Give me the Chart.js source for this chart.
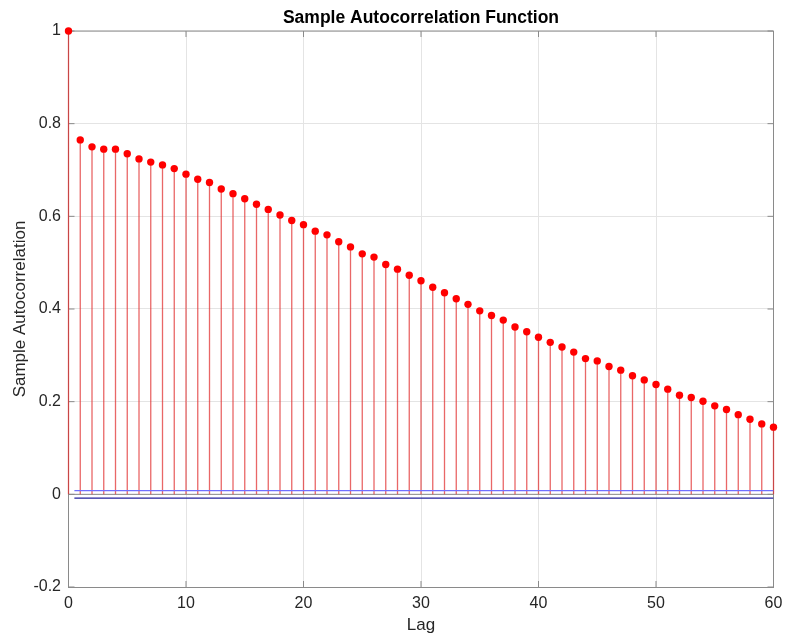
<!DOCTYPE html>
<html>
<head>
<meta charset="utf-8">
<script src="https://cdn.jsdelivr.net/npm/chart.js@4/dist/chart.umd.min.js"></script>
<style>
  html, body { margin: 0; padding: 0; background: #ffffff; }
  #wrap { width: 785px; height: 641px; }
</style>
</head>
<body>
<div id="wrap"><canvas id="acf" width="785" height="641"></canvas></div>
<script>
// Sample autocorrelation at lags 0..60
const acfValues = [1, 0.765, 0.750, 0.745, 0.745, 0.735, 0.724, 0.717, 0.711, 0.703,
  0.691, 0.680, 0.673, 0.659, 0.649, 0.638, 0.626, 0.615, 0.603, 0.591,
  0.582, 0.568, 0.560, 0.545, 0.534, 0.519, 0.512, 0.496, 0.486, 0.473,
  0.461, 0.447, 0.435, 0.422, 0.410, 0.396, 0.386, 0.376, 0.361, 0.351,
  0.339, 0.328, 0.318, 0.307, 0.293, 0.288, 0.276, 0.268, 0.256, 0.247,
  0.237, 0.227, 0.214, 0.209, 0.201, 0.191, 0.183, 0.172, 0.162, 0.152, 0.145];
const lags = acfValues.map((_, i) => i);

// Confidence bounds, drawn from lag 0.5 to the last lag
const boundLags = [0.5, 60];
const upperBound = [0.0082, 0.0082];
const lowerBound = [-0.0082, -0.0082];

// Tick values
const xTicks = [0, 10, 20, 30, 40, 50, 60];
const yTicks = [-0.2, 0, 0.2, 0.4, 0.6, 0.8, 1];

const chartTitle = 'Sample Autocorrelation Function';

const FONT = '"Liberation Sans", Arial, Helvetica, sans-serif';
const AXIS_COLOR = '#8a8a8a';
const GRID_COLOR = '#e4e4e4';
const TEXT_COLOR = '#262626';

// Stems, stem baseline, the top/right frame and inward tick marks
const stemPlugin = {
  id: 'stems',
  beforeDatasetsDraw(chart) {
    const { ctx, chartArea: a, scales: { x, y } } = chart;
    ctx.save();
    // baseline at zero
    const y0 = y.getPixelForValue(0);
    ctx.strokeStyle = AXIS_COLOR;
    ctx.lineWidth = 1;
    ctx.beginPath();
    ctx.moveTo(a.left, y0);
    ctx.lineTo(a.right, y0);
    ctx.stroke();
    // top and right frame
    ctx.beginPath();
    ctx.moveTo(a.left, a.top);
    ctx.lineTo(a.right, a.top);
    ctx.lineTo(a.right, a.bottom);
    ctx.stroke();
    // inward ticks
    const tl = 6;
    ctx.beginPath();
    xTicks.forEach(v => {
      const px = x.getPixelForValue(v);
      ctx.moveTo(px, a.bottom); ctx.lineTo(px, a.bottom - tl);
      ctx.moveTo(px, a.top); ctx.lineTo(px, a.top + tl);
    });
    yTicks.forEach(v => {
      const py = y.getPixelForValue(v);
      ctx.moveTo(a.left, py); ctx.lineTo(a.left + tl, py);
      ctx.moveTo(a.right, py); ctx.lineTo(a.right - tl, py);
    });
    ctx.stroke();
    // stems from zero to each value
    ctx.strokeStyle = 'rgba(225, 45, 45, 0.72)';
    ctx.lineWidth = 1.3;
    ctx.beginPath();
    lags.forEach((lag, i) => {
      const px = x.getPixelForValue(lag);
      ctx.moveTo(px, y0);
      ctx.lineTo(px, y.getPixelForValue(acfValues[i]));
    });
    ctx.stroke();
    ctx.restore();
  }
};

// Title centred over the plot area rather than the whole canvas
const axesTitlePlugin = {
  id: 'axesTitle',
  afterDraw(chart) {
    const { ctx, chartArea: a } = chart;
    ctx.save();
    ctx.font = 'bold 17.5px ' + FONT;
    ctx.fillStyle = '#000000';
    ctx.textAlign = 'center';
    ctx.textBaseline = 'middle';
    ctx.fillText(chartTitle, (a.left + a.right) / 2, 18.5);
    ctx.restore();
  }
};

new Chart(document.getElementById('acf'), {
  type: 'scatter',
  data: {
    datasets: [
      {
        label: 'upper',
        type: 'line',
        data: boundLags.map((l, i) => ({ x: l, y: upperBound[i] })),
        borderColor: '#7070ff',
        borderWidth: 1.2,
        pointRadius: 0,
        fill: false
      },
      {
        label: 'lower',
        type: 'line',
        data: boundLags.map((l, i) => ({ x: l, y: lowerBound[i] })),
        borderColor: '#22229c',
        borderWidth: 1.2,
        pointRadius: 0,
        fill: false
      },
      {
        label: 'acf',
        data: lags.map((l, i) => ({ x: l, y: acfValues[i] })),
        backgroundColor: '#ff0000',
        borderColor: '#ff0000',
        pointRadius: 3.7,
        pointBorderWidth: 0,
        clip: false
      }
    ]
  },
  options: {
    responsive: false,
    animation: false,
    events: [],
    layout: { padding: { left: 0, right: 11.5, top: 31, bottom: 0 } },
    plugins: {
      legend: { display: false },
      tooltip: { enabled: false },
      title: { display: false }
    },
    scales: {
      x: {
        type: 'linear',
        min: 0,
        max: 60,
        afterBuildTicks: s => { s.ticks = xTicks.map(v => ({ value: v })); },
        afterFit: s => { s.height = 54; s.paddingLeft = 0; s.paddingRight = 0; },
        grid: { color: GRID_COLOR, drawTicks: false },
        border: { display: true, color: AXIS_COLOR, width: 1 },
        ticks: { color: TEXT_COLOR, font: { family: FONT, size: 16 }, padding: 7, maxRotation: 0 },
        title: {
          display: true, text: 'Lag', color: TEXT_COLOR,
          font: { family: FONT, size: 17 }, padding: { top: 0, bottom: 5 }
        }
      },
      y: {
        type: 'linear',
        min: -0.2,
        max: 1,
        afterBuildTicks: s => { s.ticks = yTicks.map(v => ({ value: v })); },
        afterFit: s => { s.width = 68.5; s.paddingTop = 0; s.paddingBottom = 0; },
        grid: { color: GRID_COLOR, drawTicks: false },
        border: { display: true, color: AXIS_COLOR, width: 1 },
        ticks: {
          color: TEXT_COLOR, font: { family: FONT, size: 16 }, padding: 7.5,
          callback: v => String(Math.round(v * 10) / 10)
        },
        title: {
          display: true, text: 'Sample Autocorrelation', color: TEXT_COLOR,
          font: { family: FONT, size: 17 }, padding: { top: 10, bottom: 0 }
        }
      }
    }
  },
  plugins: [stemPlugin, axesTitlePlugin]
});
</script>
</body>
</html>
